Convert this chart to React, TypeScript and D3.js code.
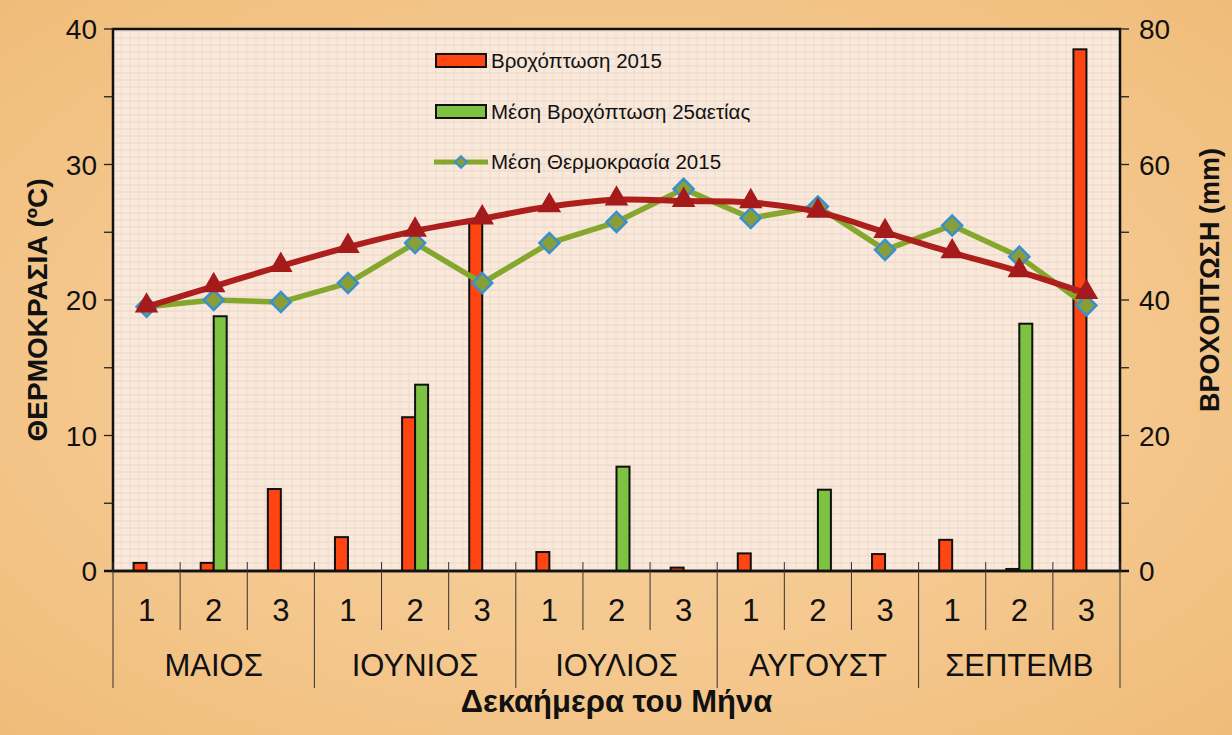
import React from 'react'
import * as d3 from 'd3'

// dekaimera (10-day periods) of each month
const months = ['ΜΑΙΟΣ', 'ΙΟΥΝΙΟΣ', 'ΙΟΥΛΙΟΣ', 'ΑΥΓΟΥΣΤ', 'ΣΕΠΤΕΜΒ']
const decades = ['1', '2', '3']

// rainfall (mm), right axis
const rain2015 = [1.2, 1.2, 12.1, 5.0, 22.7, 51.6, 2.8, 0, 0.5, 2.6, 0, 2.5, 4.6, 0.3, 77.0]
const rainMean25 = [0, 37.6, 0, 0, 27.5, 0, 0, 15.4, 0, 0, 12.0, 0, 0, 36.5, 0]

// temperature (°C), left axis
const tempMean2015 = [19.5, 20.0, 19.85, 21.25, 24.2, 21.25, 24.2, 25.75, 28.2, 26.05, 26.9, 23.7, 25.5, 23.2, 19.6]
const tempLongTerm = [19.5, 21.0, 22.5, 23.9, 25.1, 26.0, 26.9, 27.4, 27.3, 27.2, 26.5, 25.0, 23.5, 22.1, 20.5]

const leftTicks = [0, 10, 20, 30, 40]
const rightTicks = [0, 20, 40, 60, 80]

const W = 1232
const H = 735
const m = { left: 113, right: 1120, top: 29, bottom: 571 }

export default function App() {
  const cats = d3.range(months.length * decades.length)
  const x = d3.scaleBand<number>().domain(cats).range([m.left, m.right]).padding(0)
  const yT = d3.scaleLinear().domain([0, 40]).range([m.bottom, m.top])
  const yR = d3.scaleLinear().domain([0, 80]).range([m.bottom, m.top])
  const bw = 13
  const cx = (i: number) => (x(i) as number) + x.bandwidth() / 2

  const line = d3.line<number>().x((_, i) => cx(i)).y(d => yT(d))
  const curve = d3.line<number>().x((_, i) => cx(i)).y(d => yT(d)).curve(d3.curveCatmullRom)
  const tri = d3.symbol().type(d3.symbolTriangle).size(240)()
  const dia = d3.symbol().type(d3.symbolSquare).size(200)()

  const sans = 'Liberation Sans, Arial, Helvetica, sans-serif'
  const monthW = x.bandwidth() * 3

  return (
    <svg width={W} height={H} style={{ position: 'absolute', left: 0, top: 0 }} fontFamily={sans}>
      <defs>
        <radialGradient id="papyrus" cx="50%" cy="50%" r="75%">
          <stop offset="0%" stopColor="#f7d5a4" />
          <stop offset="60%" stopColor="#f4c68b" />
          <stop offset="100%" stopColor="#efba76" />
        </radialGradient>
        <pattern id="weave" width="9" height="7" patternUnits="userSpaceOnUse">
          <rect width="9" height="7" fill="#f8e9db" />
          <line x1="0" y1="3" x2="9" y2="3" stroke="#eed6c8" strokeWidth="1" />
          <line x1="4" y1="0" x2="4" y2="7" stroke="#f0dccf" strokeWidth="1" />
        </pattern>
      </defs>
      <rect width={W} height={H} fill="url(#papyrus)" />
      <rect x={m.left} y={m.top} width={m.right - m.left} height={m.bottom - m.top} fill="url(#weave)" />

      {/* bars */}
      {rain2015.map((v, i) => v > 0 && (
        <rect key={'r' + i} x={cx(i) - bw} y={yR(v)} width={bw} height={yR(0) - yR(v)}
          fill="#ff4612" stroke="#111" strokeWidth={2} />
      ))}
      {rainMean25.map((v, i) => v > 0 && (
        <rect key={'g' + i} x={cx(i)} y={yR(v)} width={bw} height={yR(0) - yR(v)}
          fill="#7ec242" stroke="#111" strokeWidth={2} />
      ))}

      {/* mean temperature 2015 */}
      <path d={line(tempMean2015) || ''} fill="none" stroke="#86a72e" strokeWidth={5.5} strokeLinejoin="round" />
      {tempMean2015.map((v, i) => (
        <path key={'d' + i} d={dia || ''} transform={`translate(${cx(i)},${yT(v)}) rotate(45)`}
          fill="#879f36" stroke="#3a90cf" strokeWidth={2.5} />
      ))}

      {/* long-term temperature */}
      <path d={curve(tempLongTerm) || ''} fill="none" stroke="#ad1f1d" strokeWidth={6} />
      {tempLongTerm.map((v, i) => (
        <path key={'t' + i} d={tri || ''} transform={`translate(${cx(i)},${yT(v) - 1})`} fill="#a51a1b" />
      ))}

      {/* plot frame */}
      <rect x={m.left} y={m.top} width={m.right - m.left} height={m.bottom - m.top} fill="none" stroke="#111" strokeWidth={2.5} />

      {/* left axis */}
      {d3.range(0, 41, 5).map(t => (
        <line key={'lt' + t} x1={m.left - 9} x2={m.left} y1={yT(t)} y2={yT(t)} stroke="#222" strokeWidth={1.3} />
      ))}
      {leftTicks.map(t => (
        <text key={'ll' + t} x={97} y={yT(t)} dy="0.36em" textAnchor="end" fontSize={28} fill="#111">{t}</text>
      ))}

      {/* right axis */}
      {d3.range(0, 81, 10).map(t => (
        <line key={'rt' + t} x1={m.right} x2={m.right + 9} y1={yR(t)} y2={yR(t)} stroke="#222" strokeWidth={1.3} />
      ))}
      {rightTicks.map(t => (
        <text key={'rl' + t} x={1139} y={yR(t)} dy="0.36em" textAnchor="start" fontSize={28} fill="#111">{t}</text>
      ))}

      {/* category axis */}
      <line x1={m.left - 9} x2={m.right + 9} y1={m.bottom} y2={m.bottom} stroke="#111" strokeWidth={2.5} />
      {d3.range(cats.length + 1).map(k => {
        const xx = m.left + k * x.bandwidth()
        const isMonth = k % 3 === 0
        return (
          <g key={'sep' + k}>
            <line x1={xx} x2={xx} y1={m.bottom - 9} y2={m.bottom} stroke="#333" strokeWidth={1} />
            <line x1={xx} x2={xx} y1={m.bottom} y2={isMonth ? 688 : 630} stroke="#333" strokeWidth={1} />
          </g>
        )
      })}
      {cats.map(i => (
        <text key={'dl' + i} x={cx(i)} y={610} dy="0.36em" textAnchor="middle" fontSize={31} fill="#111">
          {decades[i % 3]}
        </text>
      ))}
      {months.map((mo, j) => (
        <text key={'ml' + j} x={m.left + monthW * j + monthW / 2} y={665} dy="0.36em" textAnchor="middle" fontSize={31}
          fill="#111">{mo}</text>
      ))}
      <text x={(m.left + m.right) / 2} y={701} dy="0.36em" textAnchor="middle" fontSize={31} fontWeight="bold"
        fill="#111">Δεκαήμερα του Μήνα</text>

      {/* axis titles */}
      <text transform="translate(37,310) rotate(-90)" dy="0.36em" textAnchor="middle" fontSize={28} fontWeight="bold" fill="#111">
        ΘΕΡΜΟΚΡΑΣΙΑ (ºC)
      </text>
      <text transform="translate(1209,280) rotate(-90)" dy="0.36em" textAnchor="middle" fontSize={27} fontWeight="bold" fill="#111">
        ΒΡΟΧΟΠΤΩΣΗ (mm)
      </text>

      {/* legend */}
      <g fontSize={20.5} fill="#111">
        <rect x={436} y={54} width={50} height={13} fill="#ff4612" stroke="#111" strokeWidth={2} />
        <text x={491} y={61} dy="0.36em">Βροχόπτωση 2015</text>
        <rect x={436} y={105} width={50} height={13} fill="#7ec242" stroke="#111" strokeWidth={2} />
        <text x={491} y={112} dy="0.36em">Μέση Βροχόπτωση 25αετίας</text>
        <line x1={434} x2={488} y1={162} y2={162} stroke="#86a72e" strokeWidth={5} />
        <path d={d3.symbol().type(d3.symbolSquare).size(70)() || ''} transform="translate(461,162) rotate(45)"
          fill="#879f36" stroke="#3a90cf" strokeWidth={2} />
        <text x={491} y={162} dy="0.36em">Μέση Θερμοκρασία 2015</text>
      </g>
    </svg>
  )
}
